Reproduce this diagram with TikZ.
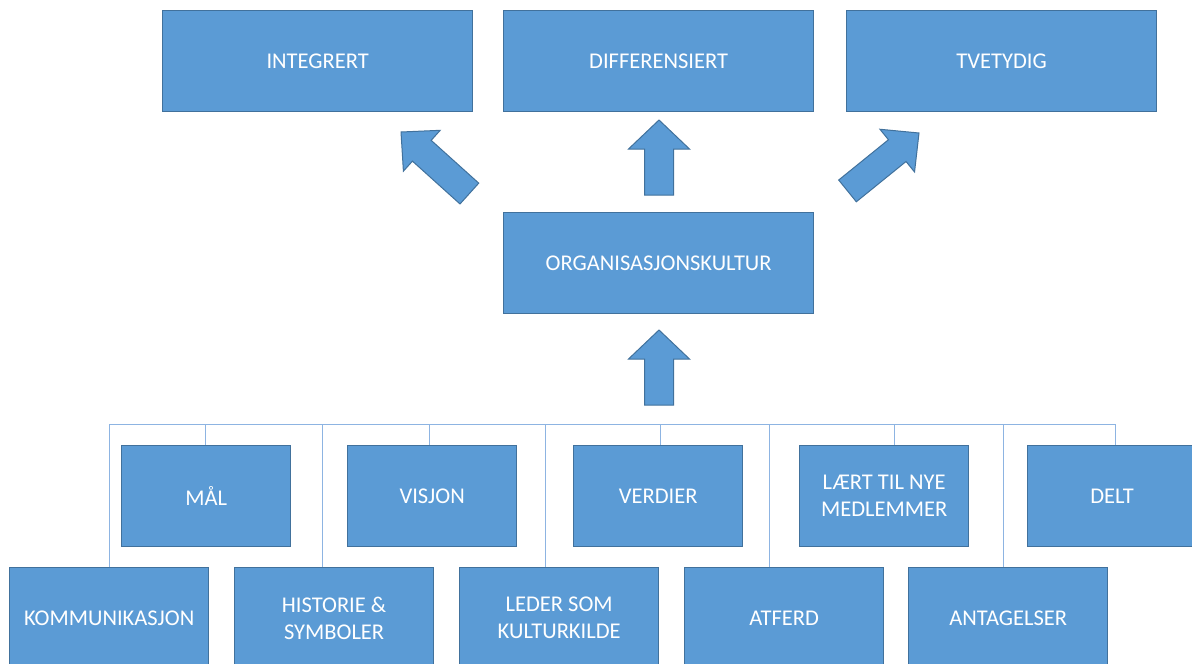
\documentclass[tikz,border=0pt]{standalone}
\usepackage{fontspec}
\setmainfont{Carlito}
\definecolor{boxfill}{HTML}{5B9BD5}
\definecolor{boxline}{HTML}{41719C}
\definecolor{connline}{HTML}{8DB4E2}
\begin{document}
\begin{tikzpicture}[x=1pt,y=-1pt,
  box/.style={draw=boxline, line width=1.3pt, fill=boxfill, text=white,
    font=\fontsize{22.5}{27}\selectfont, align=center, inner sep=0pt, anchor=north west},
  topbox/.style={box, minimum width=310pt, minimum height=101pt},
  rowone/.style={box, minimum width=169pt, minimum height=101pt},
  rowtwo/.style={box, minimum width=199pt, minimum height=101pt},
  blockarrow/.style={draw=boxline, line width=1pt, fill=boxfill, line join=miter},
  conn/.style={draw=connline, line width=1pt}]
\useasboundingbox (0,0) rectangle (1192,664);
\clip (0,0) rectangle (1192,664);

% top row
\node[topbox] (integ) at (162,10) {INTEGRERT};
\node[topbox] (diff) at (503,10) {DIFFERENSIERT};
\node[topbox] (tvet) at (846,10) {TVETYDIG};
\node[topbox] (org) at (503,212) {ORGANISASJONSKULTUR};

% block arrows
\path[blockarrow, shift={(659,120)}, rotate=90]
  (0,0) -- (-29,30.5) -- (-29,14.5) -- (-75,14.5) -- (-75,-14.5) -- (-29,-14.5) -- (-29,-30.5) -- cycle;
\path[blockarrow, shift={(659,330)}, rotate=90]
  (0,0) -- (-29,30.5) -- (-29,14.5) -- (-75,14.5) -- (-75,-14.5) -- (-29,-14.5) -- (-29,-30.5) -- cycle;
\path[blockarrow, shift={(401,132)}, rotate=138]
  (0,0) -- (-28,27.5) -- (-28,14) -- (-92,14) -- (-92,-14) -- (-28,-14) -- (-28,-27.5) -- cycle;
\path[blockarrow, shift={(919,133)}, rotate=39]
  (0,0) -- (-28,27.5) -- (-28,14) -- (-92,14) -- (-92,-14) -- (-28,-14) -- (-28,-27.5) -- cycle;

% row one
\node[rowone] (mal) at (121,445) {MÅL};
\node[rowone] (visjon) at (347,445) {VISJON};
\node[rowone] (verdier) at (573,445) {VERDIER};
\node[rowone] (laert) at (799,445) {LÆRT TIL NYE\\MEDLEMMER};
\node[rowone] (delt) at (1027,445) {DELT};

% row two
\node[rowtwo] (komm) at (9,567) {KOMMUNIKASJON};
\node[rowtwo] (hist) at (234,567) {HISTORIE \&\\SYMBOLER};
\node[rowtwo] (leder) at (459,567) {LEDER SOM\\KULTURKILDE};
\node[rowtwo] (atferd) at (684,567) {ATFERD};
\node[rowtwo] (antag) at (908,567) {ANTAGELSER};

% connector drop points
\coordinate (bus) at (0,424);
\coordinate (dkomm) at ([xshift=100]komm.north west);
\coordinate (dmal) at ([xshift=84]mal.north west);
\coordinate (dhist) at ([xshift=88]hist.north west);
\coordinate (dvisjon) at ([xshift=82]visjon.north west);
\coordinate (dleder) at ([xshift=86]leder.north west);
\coordinate (dverdier) at ([xshift=87]verdier.north west);
\coordinate (datferd) at ([xshift=85]atferd.north west);
\coordinate (dlaert) at ([xshift=95]laert.north west);
\coordinate (dantag) at ([xshift=95]antag.north west);
\coordinate (ddelt) at ([xshift=88]delt.north west);

\draw[conn] (dkomm |- bus) -- (ddelt |- bus);
\foreach \d in {dkomm,dmal,dhist,dvisjon,dleder,dverdier,datferd,dlaert,dantag,ddelt}
  \draw[conn] (\d) -- (\d |- bus);
\end{tikzpicture}
\end{document}
